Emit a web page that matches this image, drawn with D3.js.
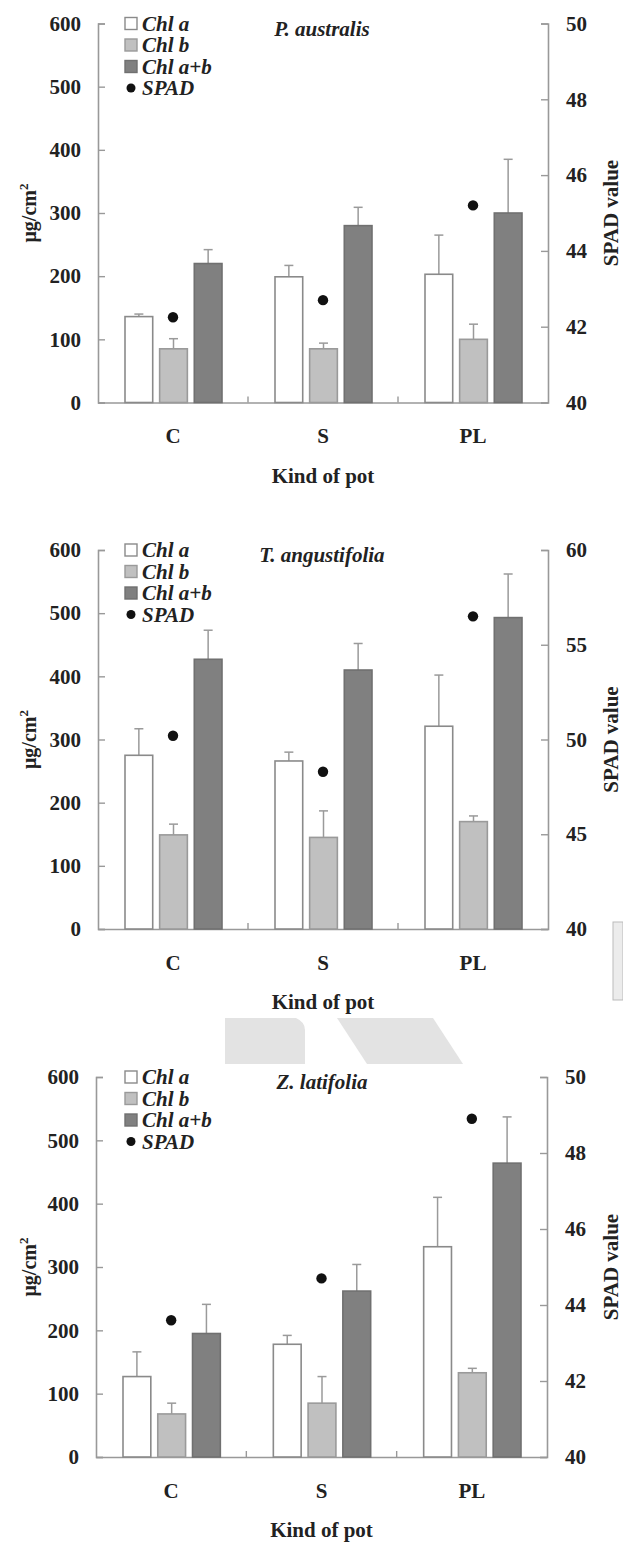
<!DOCTYPE html>
<html><head><meta charset="utf-8">
<script src="https://cdn.jsdelivr.net/npm/d3@7"></script>
<style>
body{margin:0;background:#fff}
svg{display:block}
text{font-family:"Liberation Serif","Times New Roman",serif;font-weight:bold;fill:#222}
</style>
</head><body>
<svg id="chart" width="623" height="1542"></svg>
<script>
// ---------- data ----------
const categories = ["C", "S", "PL"];
const seriesNames = ["Chl a", "Chl b", "Chl a+b"];
const speciesNames = ["P. australis", "T. angustifolia", "Z. latifolia"];
const leftTicks = [0, 100, 200, 300, 400, 500, 600];
const rightTicksP = [40, 42, 44, 46, 48, 50];
const rightTicksT = [40, 45, 50, 55, 60];
const rightTicksZ = [40, 42, 44, 46, 48, 50];

// P. australis
const chlA_P = [136, 199, 203];
const chlAErr_P = [4, 18, 62];
const chlB_P = [85, 85, 100];
const chlBErr_P = [16, 9, 24];
const chlAB_P = [220, 280, 300];
const chlABErr_P = [22, 29, 85];
const spad_P = [42.25, 42.7, 45.2];

// T. angustifolia
const chlA_T = [275, 266, 321];
const chlAErr_T = [42, 14, 81];
const chlB_T = [149, 145, 170];
const chlBErr_T = [17, 42, 9];
const chlAB_T = [427, 410, 493];
const chlABErr_T = [46, 42, 69];
const spad_T = [50.2, 48.3, 56.5];

// Z. latifolia
const chlA_Z = [127, 178, 332];
const chlAErr_Z = [39, 14, 78];
const chlB_Z = [68, 85, 133];
const chlBErr_Z = [17, 42, 7];
const chlAB_Z = [195, 262, 464];
const chlABErr_Z = [46, 42, 73];
const spad_Z = [43.6, 44.7, 48.9];

const panels = [
  {name: speciesNames[0], vals: [chlA_P, chlB_P, chlAB_P], errs: [chlAErr_P, chlBErr_P, chlABErr_P], spad: spad_P, rTicks: rightTicksP},
  {name: speciesNames[1], vals: [chlA_T, chlB_T, chlAB_T], errs: [chlAErr_T, chlBErr_T, chlABErr_T], spad: spad_T, rTicks: rightTicksT},
  {name: speciesNames[2], vals: [chlA_Z, chlB_Z, chlAB_Z], errs: [chlAErr_Z, chlBErr_Z, chlABErr_Z], spad: spad_Z, rTicks: rightTicksZ}
];

// ---------- layout ----------
const layout = [
  {left: 98, right: 548, top: 23.5, bottom: 402.5},
  {left: 98, right: 548, top: 550, bottom: 929},
  {left: 96, right: 547, top: 1077, bottom: 1457}
];
const fills = ["#ffffff", "#c0c0c0", "#808080"];
const strokes = ["#8a8a8a", "#9a9a9a", "#707070"];
const errColor = "#9a9a9a";
const axisColor = "#999";
const svg = d3.select("#chart");

// watermark shapes
svg.append("path").attr("d", "M225,1018 L296,1018 Q305,1022 305,1030 L305,1064 L225,1064 Z").attr("fill", "#e3e3e3");
svg.append("path").attr("d", "M337,1018 L433,1018 L463,1064 L367,1064 Z").attr("fill", "#e3e3e3");
svg.append("rect").attr("x", 613).attr("y", 922).attr("width", 10).attr("height", 78).attr("fill", "#ececec").attr("stroke", "#bbb");

panels.forEach((p, i) => {
  const L = layout[i];
  const g = svg.append("g");
  const x = d3.scaleBand().domain(categories).range([L.left, L.right]).padding(0);
  const cw = x.bandwidth();
  const xi = d3.scaleBand().domain(d3.range(seriesNames.length)).range([27, cw - 26]).paddingInner(0.2).paddingOuter(0);
  const y = d3.scaleLinear().domain([0, 600]).range([L.bottom, L.top]);
  const yr = d3.scaleLinear().domain([p.rTicks[0], p.rTicks[p.rTicks.length - 1]]).range([L.bottom, L.top]);

  // axes
  const yAxis = d3.axisLeft(y).tickValues(leftTicks).tickSize(-7).tickPadding(17).tickFormat(d3.format("d"));
  const ga = g.append("g").attr("transform", `translate(${L.left},0)`).call(yAxis);
  const yrAxis = d3.axisRight(yr).tickValues(p.rTicks).tickSize(-7).tickPadding(18).tickFormat(d3.format("d"));
  const gr = g.append("g").attr("transform", `translate(${L.right},0)`).call(yrAxis);
  const xAxis = d3.axisBottom(x).tickSize(0).tickPadding(26);
  const gx = g.append("g").attr("transform", `translate(0,${L.bottom})`).call(xAxis);
  [ga, gr, gx].forEach(a => {
    a.select(".domain").attr("stroke", axisColor).attr("stroke-width", 1.6);
    a.selectAll(".tick line").attr("stroke", axisColor).attr("stroke-width", 1.4);
    a.selectAll(".tick text").attr("font-size", 21).attr("fill", "#222")
      .attr("font-family", "'Liberation Serif',serif").attr("font-weight", "bold");
  });
  // inner boundary ticks on x axis
  g.selectAll(".bnd").data(categories.slice(1)).enter().append("line")
    .attr("x1", d => x(d)).attr("x2", d => x(d))
    .attr("y1", L.bottom).attr("y2", L.bottom - 6)
    .attr("stroke", axisColor).attr("stroke-width", 1.4);

  // bars
  seriesNames.forEach((s, si) => {
    const gb = g.append("g");
    gb.selectAll("line.err").data(categories).enter().append("line")
      .attr("x1", (d, k) => x(d) + xi(si) + xi.bandwidth() / 2)
      .attr("x2", (d, k) => x(d) + xi(si) + xi.bandwidth() / 2)
      .attr("y1", (d, k) => y(p.vals[si][k]))
      .attr("y2", (d, k) => y(p.vals[si][k] + p.errs[si][k]))
      .attr("stroke", errColor).attr("stroke-width", 1.5);
    gb.selectAll("line.cap").data(categories).enter().append("line")
      .attr("x1", (d, k) => x(d) + xi(si) + xi.bandwidth() / 2 - 4.5)
      .attr("x2", (d, k) => x(d) + xi(si) + xi.bandwidth() / 2 + 4.5)
      .attr("y1", (d, k) => y(p.vals[si][k] + p.errs[si][k]))
      .attr("y2", (d, k) => y(p.vals[si][k] + p.errs[si][k]))
      .attr("stroke", errColor).attr("stroke-width", 1.5);
    gb.selectAll("rect").data(categories).enter().append("rect")
      .attr("x", d => x(d) + xi(si))
      .attr("width", xi.bandwidth())
      .attr("y", (d, k) => y(p.vals[si][k]))
      .attr("height", (d, k) => L.bottom - y(p.vals[si][k]))
      .attr("fill", fills[si]).attr("stroke", strokes[si]).attr("stroke-width", 1.6);
  });

  // SPAD points
  g.selectAll("circle.spad").data(categories).enter().append("circle")
    .attr("cx", d => x(d) + cw / 2)
    .attr("cy", (d, k) => yr(p.spad[k]))
    .attr("r", 5.2).attr("fill", "#111");

  // title
  g.append("text").attr("x", 322).attr("y", L.top + 12).attr("text-anchor", "middle")
    .attr("font-size", 21).attr("font-style", "italic").text(p.name);

  // legend
  const lg = g.append("g").attr("transform", `translate(125,${L.top})`);
  const rowH = 21.5;
  seriesNames.forEach((s, si) => {
    lg.append("rect").attr("x", 0).attr("y", si * rowH - 6).attr("width", 12).attr("height", 12)
      .attr("fill", fills[si]).attr("stroke", strokes[si]).attr("stroke-width", 1.4);
    lg.append("text").attr("x", 17).attr("y", si * rowH + 7).attr("font-size", 21)
      .attr("font-style", "italic").text(s);
  });
  lg.append("circle").attr("cx", 6).attr("cy", 3 * rowH).attr("r", 4.5).attr("fill", "#111");
  lg.append("text").attr("x", 17).attr("y", 3 * rowH + 7).attr("font-size", 21)
    .attr("font-style", "italic").text("SPAD");

  // axis titles
  const cy = (L.top + L.bottom) / 2;
  const yl = g.append("text").attr("transform", `translate(36,${cy}) rotate(-90)`)
    .attr("text-anchor", "middle").attr("font-size", 20);
  yl.append("tspan").text("μg/cm");
  yl.append("tspan").attr("dy", -8).attr("font-size", 13).text("2");
  g.append("text").attr("transform", `translate(618,${cy}) rotate(-90)`)
    .attr("text-anchor", "middle").attr("font-size", 21).text("SPAD value");
  g.append("text").attr("x", (L.left + L.right) / 2).attr("y", L.bottom + 80)
    .attr("text-anchor", "middle").attr("font-size", 21).text("Kind of pot");
});
</script>
</body></html>
